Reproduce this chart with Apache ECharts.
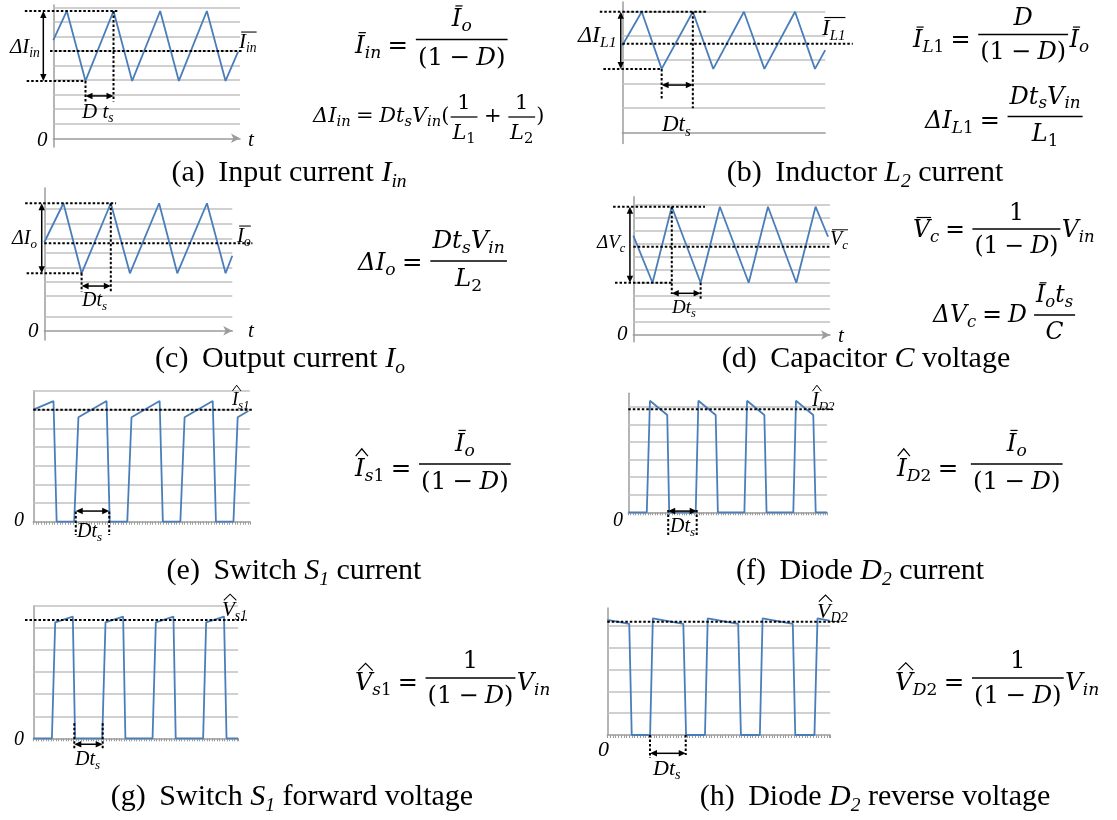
<!DOCTYPE html>
<html>
<head>
<meta charset="utf-8">
<script src="https://cdn.jsdelivr.net/npm/echarts@6/dist/echarts.min.js"></script>
<style>
html,body{margin:0;padding:0;background:#ffffff;}
#chart{width:1117px;height:820px;}
</style>
</head>
<body>
<div id="chart"></div>
<script>
// ---------- waveforms: time in switching periods, value in grid units ----------
// (a) input current
const inputT = [0, 0.29, 0.69, 1.29, 1.69, 2.29, 2.69, 3.29, 3.69, 3.96];
const inputV = [6.75, 8.75, 3.94, 8.75, 3.94, 8.75, 3.94, 8.75, 3.94, 5.95];
// (b) inductor current
const inductorT = [0, 0.38, 0.77, 1.38, 1.78, 2.38, 2.78, 3.38, 3.77, 3.97];
const inductorV = [3.6, 5.0, 2.63, 5.0, 2.63, 5.0, 2.63, 5.0, 2.63, 3.41];
// (c) output current
const outputT = [0, 0.40, 0.78, 1.39, 1.79, 2.40, 2.78, 3.40, 3.79, 3.93];
const outputV = [6.1, 8.79, 3.96, 8.79, 3.96, 8.79, 3.96, 8.79, 3.96, 5.17];
// (d) capacitor voltage
const capT = [0, 0.40, 0.80, 1.40, 1.80, 2.40, 2.80, 3.39, 3.79, 4.05];
const capV = [7.64, 4.02, 9.87, 4.02, 9.87, 4.02, 9.87, 4.02, 9.87, 7.56];
// (e) switch current
const switchCurT = [0, 0.38, 0.44, 0.77, 0.85, 1.38, 1.44, 1.77, 1.85, 2.38, 2.44, 2.77, 2.85, 3.38, 3.44, 3.77, 3.85, 4.05];
const switchCurV = [6.0, 6.46, 0, 0, 5.59, 6.46, 0, 0, 5.59, 6.46, 0, 0, 5.59, 6.46, 0, 0, 5.59, 5.93];
// (f) diode current
const diodeCurT = [0, 0.38, 0.445, 0.80, 0.84, 1.385, 1.44, 1.795, 1.84, 2.385, 2.44, 2.795, 2.84, 3.39, 3.445, 3.80, 3.85, 4.08];
const diodeCurV = [0, 0, 6.34, 5.53, 0, 0, 6.34, 5.53, 0, 0, 6.34, 5.53, 0, 0, 6.34, 5.53, 0, 0];
// (g) switch forward voltage
const switchVolT = [0, 0.37, 0.435, 0.785, 0.83, 1.37, 1.435, 1.785, 1.83, 2.37, 2.435, 2.785, 2.83, 3.375, 3.435, 3.79, 3.84, 4.07];
const switchVolV = [0, 0, 5.26, 5.52, 0, 0, 5.26, 5.52, 0, 0, 5.26, 5.52, 0, 0, 5.26, 5.52, 0, 0];
// (h) diode reverse voltage
const diodeVolT = [0, 0.40, 0.445, 0.78, 0.83, 1.385, 1.435, 1.78, 1.83, 2.385, 2.435, 2.78, 2.83, 3.38, 3.425, 3.775, 3.83, 4.05];
const diodeVolV = [5.28, 5.1, 0, 0, 5.35, 5.1, 0, 0, 5.35, 5.1, 0, 0, 5.35, 5.1, 0, 0, 5.35, 5.25];

// ---------- horizontal grid levels ----------
const gridA = [1, 2, 3, 4, 5, 6, 7, 8, 9];
const gridB = [1, 2, 3, 4, 5];
const gridC = [0.97, 2.39, 3.38, 4.37, 5.38, 6.37, 7.38, 8.39];
const gridD = [1, 2, 3, 4, 5, 6, 7, 8, 9, 10];
const gridE = [1, 2, 3, 4, 5, 6, 7];
const gridF = [1, 2, 3, 4, 5, 6];
const gridG = [1, 2, 3, 4, 5, 6];
const gridH = [1, 2, 3, 4, 5];

// ---------- dotted guides [t1, v1, t2, v2] and double arrows ----------
const guidesA = [[-0.61, 8.75, 1.38, 8.75], [-0.57, 3.94, 0.69, 3.94], [-0.07, 6.0, 4.06, 6.0], [0.69, 3.94, 0.69, 2.52], [1.29, 8.75, 1.29, 2.52]];
const arrowsA = [[0.69, 2.91, 1.29, 2.91], [-0.214, 8.75, -0.214, 3.94]];
const guidesB = [[-0.44, 5.0, 1.65, 5.0], [-0.37, 2.63, 0.77, 2.63], [0, 3.67, 4.51, 3.67], [0.77, 2.63, 0.77, 1.34], [1.38, 5.0, 1.38, 1.0]];
const arrowsB = [[0.77, 1.96, 1.38, 1.96], [-0.03, 5.0, -0.03, 2.63]];
const guidesC = [[-0.40, 8.79, 1.50, 8.79], [-0.37, 3.96, 0.78, 3.96], [0, 6.03, 4.35, 6.03], [0.78, 3.96, 0.78, 2.69], [1.39, 8.79, 1.39, 2.69]];
const arrowsC = [[0.78, 3.08, 1.39, 3.08], [-0.054, 8.79, -0.054, 3.96]];
const guidesD = [[-0.42, 9.87, 1.49, 9.87], [-0.38, 4.02, 0.80, 4.02], [0, 6.79, 4.09, 6.79], [0.80, 9.87, 0.80, 3.15], [1.40, 4.02, 1.40, 2.69]];
const arrowsD = [[0.80, 3.21, 1.40, 3.21], [-0.07, 9.87, -0.07, 4.02]];
const guidesE = [[0, 6.0, 4.12, 6.0], [0.80, 0.54, 0.80, -0.71], [1.43, 0.54, 1.43, -0.71]];
const arrowsE = [[0.80, 0.57, 1.43, 0.57]];
const guidesF = [[0, 5.85, 4.2, 5.85], [0.82, 0.13, 0.82, -1.29], [1.405, 0.13, 1.405, -1.29]];
const arrowsF = [[0.82, 0.07, 1.405, 0.07]];
const guidesG = [[-0.165, 5.37, 4.24, 5.37], [0.815, 0.68, 0.815, -0.5], [1.379, 0.68, 1.379, -0.5]];
const arrowsG = [[0.815, -0.27, 1.379, -0.27]];
const guidesH = [[0, 5.2, 4.24, 5.2], [0.778, 0, 0.778, -1.06], [1.429, 0, 1.429, -0.92]];
const arrowsH = [[0.778, -0.84, 1.429, -0.84]];

// ---------- panel layout ----------
const panels = [
  {left: 53.3, top: 5.0, width: 186.7, height: 142.0, x: [0, 4], y: [-0.6, 9.16], arrow: true, ticks: false, t: inputT, v: inputV, grid: gridA, guides: guidesA, arrows: arrowsA},
  {left: 622.3, top: 1.9, width: 202.9, height: 141.5, x: [0, 3.97], y: [-0.46, 5.41], arrow: false, ticks: false, t: inductorT, v: inductorV, grid: gridB, guides: guidesB, arrows: arrowsB},
  {left: 44.3, top: 188, width: 188, height: 152, x: [0, 3.93], y: [-0.64, 9.84], arrow: true, ticks: false, t: outputT, v: outputV, grid: gridC, guides: guidesC, arrows: arrowsC},
  {left: 633.3, top: 196.7, width: 196.7, height: 145.1, x: [0, 4.09], y: [-0.52, 10.64], arrow: true, ticks: false, t: capT, v: capV, grid: gridD, guides: guidesD, arrows: arrowsD},
  {left: 33.3, top: 391, width: 216.6, height: 130.7, x: [0, 4.08], y: [0, 7], arrow: false, ticks: true, t: switchCurT, v: switchCurV, grid: gridE, guides: guidesE, arrows: arrowsE},
  {left: 628.3, top: 393.3, width: 198.6, height: 119, x: [0, 4.08], y: [0, 6.76], arrow: false, ticks: true, t: diodeCurT, v: diodeCurV, grid: gridF, guides: guidesF, arrows: arrowsF},
  {left: 33.3, top: 606, width: 204.8, height: 132.3, x: [0, 4.07], y: [0, 6], arrow: false, ticks: true, t: switchVolT, v: switchVolV, grid: gridG, guides: guidesG, arrows: arrowsG},
  {left: 607.3, top: 607.9, width: 222.8, height: 127.1, x: [0, 4.06], y: [0, 5.83], arrow: false, ticks: true, t: diodeVolT, v: diodeVolV, grid: gridH, guides: guidesH, arrows: arrowsH}
];

const AXIS_GRAY = '#9c9c9c';
const GRID_GRAY = '#c0c0c0';
const WAVE_BLUE = '#4a7ebb';

const option = {animation: false, backgroundColor: '#ffffff', grid: [], xAxis: [], yAxis: [], series: []};
panels.forEach((p, i) => {
  option.grid.push({left: p.left, top: p.top, width: p.width, height: p.height, containLabel: false});
  option.xAxis.push({
    type: 'value', gridIndex: i, min: p.x[0], max: p.x[1],
    interval: p.ticks ? 0.05 : undefined,
    axisLabel: {show: false}, splitLine: {show: false},
    axisTick: {show: p.ticks, length: 3, lineStyle: {color: AXIS_GRAY, width: 1}},
    axisLine: {show: true, onZero: true, symbol: p.arrow ? ['none', 'arrow'] : 'none', symbolSize: [7, 9],
      lineStyle: {color: AXIS_GRAY, width: 1.5}}
  });
  option.yAxis.push({
    type: 'value', gridIndex: i, min: p.y[0], max: p.y[1],
    axisLabel: {show: false}, splitLine: {show: false}, axisTick: {show: false},
    axisLine: {show: true, onZero: false, lineStyle: {color: AXIS_GRAY, width: 1.5}}
  });
  option.series.push({
    type: 'line', xAxisIndex: i, yAxisIndex: i, data: [], z: 1, silent: true,
    markLine: {silent: true, symbol: 'none', z: 1, label: {show: false},
      lineStyle: {color: GRID_GRAY, width: 1.5, type: 'solid'},
      data: p.grid.map(v => ({yAxis: v}))}
  });
  option.series.push({
    type: 'line', xAxisIndex: i, yAxisIndex: i, z: 10, silent: true, clip: false,
    symbol: 'none', showSymbol: false,
    lineStyle: {color: WAVE_BLUE, width: 1.8},
    data: p.t.map((t, k) => [t, p.v[k]])
  });
});

const chart = echarts.init(document.getElementById('chart'), null, {renderer: 'canvas'});
chart.setOption(option);

// ---------- small typesetting helper for labels and formulas ----------
const els = [];
const mctx = document.createElement('canvas').getContext('2d');
const midCache = {};
function baseToMid(font, size) {
  if (midCache[font] !== undefined) return midCache[font];
  mctx.font = font;
  mctx.textBaseline = 'alphabetic';
  const a = mctx.measureText('Hg').fontBoundingBoxAscent;
  mctx.textBaseline = 'middle';
  const m = mctx.measureText('Hg').fontBoundingBoxAscent;
  mctx.textBaseline = 'alphabetic';
  let off = a - m;
  if (!isFinite(off)) off = 0.34 * size;
  midCache[font] = off;
  return off;
}
function addText(s, x, base, font, size) {
  els.push({type: 'text', x: x, y: base - baseToMid(font, size), silent: true, z: 100,
    style: {text: s, font: font, fill: '#000', align: 'left', verticalAlign: 'middle', textAlign: 'left', textVerticalAlign: 'middle'}});
}
function addLine(x1, y1, x2, y2, w, dash) {
  els.push({type: 'line', silent: true, z: 100, shape: {x1, y1, x2, y2},
    style: {stroke: '#000', lineWidth: w, lineDash: dash || null}});
}
function addArrow(p, q) {
  const dx = q[0] - p[0], dy = q[1] - p[1];
  const L = Math.hypot(dx, dy), ux = dx / L, uy = dy / L, hl = 7, hw = 3.2;
  addLine(p[0] + ux * hl * 0.8, p[1] + uy * hl * 0.8, q[0] - ux * hl * 0.8, q[1] - uy * hl * 0.8, 1.5);
  [[p, 1], [q, -1]].forEach(([tip, s]) => {
    const bx = tip[0] + s * ux * hl, by = tip[1] + s * uy * hl;
    els.push({type: 'polygon', silent: true, z: 100,
      shape: {points: [[tip[0], tip[1]], [bx - uy * hw, by + ux * hw], [bx + uy * hw, by - ux * hw]]},
      style: {fill: '#000'}});
  });
}

const I = s => ({k: 't', s, it: true});
const R = s => ({k: 't', s, it: false});
const Seq = (...n) => ({k: 'seq', n});
const Sub = (b, s) => ({k: 'sub', b, s});
const Bar = (b, l, r) => ({k: 'bar', b, l: l == null ? 0.15 : l, r: r == null ? -0.05 : r});
const Hat = (b, hw, sh) => ({k: 'hat', b, hw: hw || 0.5, sh: sh == null ? 0.08 : sh});
const Fr = (a, b) => ({k: 'fr', a, b});
const Op = s => ({k: 'op', s});
const Sp = w => ({k: 'sp', w});
const oneMinusD = () => Seq(R('(1'), Op('−'), I('D'), R(')'));

function layout(n, f) {
  const s = f.size;
  switch (n.k) {
    case 't': {
      const font = (n.it ? 'italic ' : '') + s + 'px ' + f.fam;
      mctx.font = font;
      const w = mctx.measureText(n.s).width;
      return {w, a: f.cap * s, d: 0.2 * s, draw: (x, y) => addText(n.s, x, y, font, s)};
    }
    case 'sp': return {w: n.w * s, a: 0, d: 0, draw: () => {}};
    case 'seq': {
      const bs = n.n.map(c => layout(c, f));
      return {w: bs.reduce((acc, b) => acc + b.w, 0), a: Math.max(...bs.map(b => b.a)), d: Math.max(...bs.map(b => b.d)),
        draw: (x, y) => { let cx = x; bs.forEach(b => { b.draw(cx, y); cx += b.w; }); }};
    }
    case 'sub': {
      const B = layout(n.b, f);
      const S = layout(n.s, Object.assign({}, f, {size: s * f.subScale}));
      const drop = f.subDrop * s;
      return {w: B.w + S.w, a: B.a, d: Math.max(B.d, S.d + drop),
        draw: (x, y) => { B.draw(x, y); S.draw(x + B.w, y + drop); }};
    }
    case 'bar': {
      const B = layout(n.b, f);
      return {w: B.w, a: B.a + 0.15 * s, d: B.d, draw: (x, y) => {
        B.draw(x, y);
        const yy = y - f.cap * s - 0.1 * s;
        addLine(x + n.l * s, yy, x + B.w - n.r * s, yy, Math.max(1, 0.05 * s));
      }};
    }
    case 'hat': {
      const B = layout(n.b, f);
      return {w: B.w, a: B.a + 0.35 * s, d: B.d, draw: (x, y) => {
        B.draw(x, y);
        const cx = x + B.w / 2 + n.sh * s, yb = y - f.cap * s - 0.08 * s, yt = yb - 0.3 * s, hw = n.hw * s / 2;
        els.push({type: 'polyline', silent: true, z: 100, shape: {points: [[cx - hw, yb], [cx, yt], [cx + hw, yb]]},
          style: {stroke: '#000', lineWidth: Math.max(1, 0.05 * s), fill: null}});
      }};
    }
    case 'op': {
      const T = layout({k: 't', s: n.s, it: false}, f);
      const p = f.opPad * s;
      return {w: T.w + 2 * p, a: T.a, d: T.d, draw: (x, y) => T.draw(x + p, y)};
    }
    case 'fr': {
      const A = layout(n.a, f), B = layout(n.b, f);
      const pad = 0.14 * s, w = Math.max(A.w, B.w) + 2 * pad, rise = f.rise;
      return {w, a: rise + A.d + 0.2 * s + A.a, d: B.a + 0.3 * s - rise + B.d, draw: (x, y) => {
        const by = y - rise;
        addLine(x + pad * 0.4, by, x + w - pad * 0.4, by, Math.max(1.2, 0.06 * s));
        A.draw(x + (w - A.w) / 2, by - A.d - 0.2 * s);
        B.draw(x + (w - B.w) / 2, by + 0.3 * s + B.a);
      }};
    }
  }
}

const MATH = {fam: '"DejaVu Serif", serif', subScale: 0.7, subDrop: 0.2, cap: 0.73, opPad: 0.26};
const TIMES = {fam: '"Liberation Serif", serif', subScale: 0.65, subDrop: 0.2, cap: 0.66, opPad: 0.2};
function place(item, base) {
  const f = Object.assign({}, base, {size: item.s, rise: item.rise || 0});
  const b = layout(item.n, f);
  const x = item.cx != null ? item.cx - b.w / 2 : item.x;
  b.draw(x, item.y);
}

// ---------- annotation text inside the plots ----------
const Dts = () => Seq(I('D'), Sub(I('t'), I('s')));
const plotLabels = [
  {x: 10, y: 53, s: 21, n: Seq(I('Δ'), Sub(I('I'), I('in')))},
  {x: 82, y: 118, s: 21, n: Seq(I('D '), Sub(I('t'), I('s')))},
  {x: 239, y: 48, s: 21, n: Bar(Sub(I('I'), I('in')), 0.1, 0)},
  {x: 37, y: 146, s: 21, n: I('0')},
  {x: 248, y: 146, s: 21, n: I('t')},

  {x: 578, y: 42, s: 24, n: Seq(I('Δ'), Sub(I('I'), I('L1')))},
  {x: 662, y: 131, s: 23, n: Dts()},
  {x: 822, y: 35, s: 23, n: Bar(Sub(I('I'), I('L1')), 0.1, 0)},

  {x: 12, y: 244, s: 20, n: Seq(I('Δ'), Sub(I('I'), I('o')))},
  {x: 82, y: 306, s: 20, n: Dts()},
  {x: 237, y: 242, s: 21, n: Bar(Sub(I('I'), I('o')), 0.1, 0)},
  {x: 28, y: 337, s: 21, n: I('0')},
  {x: 248, y: 337, s: 21, n: I('t')},

  {x: 597, y: 248, s: 19, n: Seq(I('Δ'), Sub(I('V'), I('c')))},
  {x: 672, y: 313, s: 19, n: Dts()},
  {x: 830, y: 245, s: 20, n: Bar(Sub(I('V'), I('c')), 0.1, 0)},
  {x: 617, y: 340, s: 21, n: I('0')},
  {x: 838, y: 342, s: 21, n: I('t')},

  {x: 14, y: 526, s: 20, n: I('0')},
  {x: 77, y: 537, s: 20, n: Dts()},
  {x: 232, y: 405, s: 19, n: Sub(Hat(I('I'), 0.45), I('s1'))},

  {x: 613, y: 526, s: 20, n: I('0')},
  {x: 670, y: 532, s: 20, n: Dts()},
  {x: 812, y: 406, s: 20, n: Sub(Hat(I('I'), 0.45), I('D2'))},

  {x: 14, y: 745, s: 20, n: I('0')},
  {x: 75, y: 765, s: 20, n: Dts()},
  {x: 222, y: 616, s: 21, n: Sub(Hat(I('V'), 0.6), I('s1'))},

  {x: 598, y: 756, s: 22, n: I('0')},
  {x: 653, y: 775, s: 22, n: Dts()},
  {x: 817, y: 618, s: 22, n: Sub(Hat(I('V'), 0.6), I('D2'))}
];

// ---------- formulas ----------
const DtsVin = () => Seq(I('D'), Sub(I('t'), I('s')), Sub(I('V'), I('in')));
const formulas = [
  {x: 355, y: 53, s: 24.5, rise: 13.5, n: Seq(Sub(Bar(I('I')), I('in')), Op('='), Fr(Sub(Bar(I('I')), I('o')), oneMinusD()))},
  {x: 313, y: 122, s: 21, rise: 5, n: Seq(I('Δ'), Sub(I('I'), I('in')), Op('='), DtsVin(), R('('),
      Fr(R('1'), Sub(I('L'), R('1'))), Op('+'), Fr(R('1'), Sub(I('L'), R('2'))), R(')'))},
  {x: 913, y: 47, s: 24, rise: 12.5, n: Seq(Sub(Bar(I('I')), Seq(I('L'), R('1'))), Op('='), Fr(I('D'), oneMinusD()), Sub(Bar(I('I')), I('o')))},
  {x: 925, y: 128, s: 24, rise: 11.5, n: Seq(I('Δ'), Sub(I('I'), Seq(I('L'), R('1'))), Op('='), Fr(DtsVin(), Sub(I('L'), R('1'))))},
  {x: 358, y: 270, s: 24.5, rise: 9, n: Seq(I('Δ'), Sub(I('I'), I('o')), Op('='), Fr(DtsVin(), Sub(I('L'), R('2'))))},
  {x: 913, y: 237, s: 23.5, rise: 8, n: Seq(Sub(Bar(I('V')), I('c')), Op('='), Fr(R('1'), oneMinusD()), Sub(I('V'), I('in')))},
  {x: 933, y: 322, s: 23.5, rise: 7, n: Seq(I('Δ'), Sub(I('V'), I('c')), Op('='), I('D'), Sp(0.25), Fr(Seq(Sub(Bar(I('I')), I('o')), Sub(I('t'), I('s'))), I('C')))},
  {x: 355, y: 476, s: 24.5, rise: 12, n: Seq(Sub(Hat(I('I'), 0.5), Seq(I('s'), R('1'))), Op('='), Fr(Sub(Bar(I('I')), I('o')), oneMinusD()))},
  {x: 897, y: 476, s: 24.5, rise: 12, n: Seq(Sub(Hat(I('I'), 0.5), Seq(I('D'), R('2'))), Op('='), Sp(0.2), Fr(Sub(Bar(I('I')), I('o')), oneMinusD()))},
  {x: 355, y: 690, s: 24, rise: 12, n: Seq(Sub(Hat(I('V'), 0.6), Seq(I('s'), R('1'))), Op('='), Fr(R('1'), oneMinusD()), Sub(I('V'), I('in')))},
  {x: 895, y: 690, s: 24.5, rise: 12, n: Seq(Sub(Hat(I('V'), 0.6), Seq(I('D'), R('2'))), Op('='), Fr(R('1'), oneMinusD()), Sub(I('V'), I('in')))}
];

// ---------- captions (centred under each panel) ----------
const Gap = () => Sp(0.45);
const captions = [
  {cx: 289, y: 181, s: 30, n: Seq(R('(a)'), Gap(), R('Input current '), Sub(I('I'), I('in')))},
  {cx: 865, y: 181, s: 30, n: Seq(R('(b)'), Gap(), R('Inductor '), Sub(I('L'), I('2')), R(' current'))},
  {cx: 280, y: 367, s: 30, n: Seq(R('(c)'), Gap(), R('Output current '), Sub(I('I'), I('o')))},
  {cx: 866, y: 367, s: 30, n: Seq(R('(d)'), Gap(), R('Capacitor '), I('C'), R(' voltage'))},
  {cx: 294, y: 579, s: 30, n: Seq(R('(e)'), Gap(), R('Switch '), Sub(I('S'), I('1')), R(' current'))},
  {cx: 860, y: 579, s: 30, n: Seq(R('(f)'), Gap(), R('Diode '), Sub(I('D'), I('2')), R(' current'))},
  {cx: 292, y: 805, s: 30, n: Seq(R('(g)'), Gap(), R('Switch '), Sub(I('S'), I('1')), R(' forward voltage'))},
  {cx: 875, y: 805, s: 30, n: Seq(R('(h)'), Gap(), R('Diode '), Sub(I('D'), I('2')), R(' reverse voltage'))}
];

// dotted guides and arrows, positioned through each grid's axes
panels.forEach((p, i) => {
  const px = (t, v) => chart.convertToPixel({gridIndex: i}, [t, v]);
  p.guides.forEach(g => {
    const a = px(g[0], g[1]), b = px(g[2], g[3]);
    addLine(a[0], a[1], b[0], b[1], 2, [2.5, 2]);
  });
  p.arrows.forEach(g => addArrow(px(g[0], g[1]), px(g[2], g[3])));
});
plotLabels.forEach(it => place(it, TIMES));
formulas.forEach(it => place(it, MATH));
captions.forEach(it => place(it, TIMES));

chart.setOption({graphic: {elements: els}});
</script>
</body>
</html>
